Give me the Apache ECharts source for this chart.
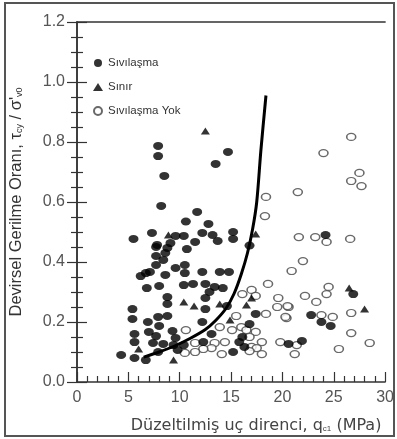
<!DOCTYPE html>
<html>
<head>
<meta charset="utf-8">
<script src="https://cdn.jsdelivr.net/npm/echarts@6/dist/echarts.min.js"></script>
<style>
  html, body { margin: 0; padding: 0; background: #fff; }
  #chart { width: 397px; height: 439px; }
</style>
</head>
<body>
<div id="chart"></div>
<script>
// values: [qc1 (MPa), stress ratio]
const liquefied = [
  [7.9, 0.787], [7.9, 0.753], [8.5, 0.687], [8.2, 0.587], [14.7, 0.767], [13.5, 0.727],
  [11.7, 0.567], [10.6, 0.535], [12.8, 0.527], [5.5, 0.477], [7.3, 0.497], [9.6, 0.487],
  [10.4, 0.487], [12.2, 0.497], [13.2, 0.49], [15.2, 0.5], [15.2, 0.477], [7.8, 0.457],
  [9.1, 0.463], [11.5, 0.467], [13.7, 0.47], [16.8, 0.455], [10.7, 0.443],
  [7.7, 0.45], [8.8, 0.447], [7.7, 0.42], [8.6, 0.43], [7.7, 0.39], [8.4, 0.407],
  [9.6, 0.38], [7.1, 0.367], [6.2, 0.353], [6.7, 0.363], [8.6, 0.357], [10.5, 0.39],
  [10.5, 0.363], [12.2, 0.367], [13.9, 0.367], [14.8, 0.367],
  [6.8, 0.313], [8.0, 0.32], [10.4, 0.323], [11.3, 0.327], [12.5, 0.327], [13.4, 0.317],
  [14.2, 0.313], [12.9, 0.3], [8.8, 0.283], [12.5, 0.28], [8.8, 0.26], [12.5, 0.243],
  [14.6, 0.253], [5.4, 0.243], [5.4, 0.21], [7.9, 0.217], [8.8, 0.22], [6.9, 0.2],
  [8.0, 0.187], [7.0, 0.167], [5.6, 0.16], [7.7, 0.153], [9.3, 0.17], [5.6, 0.133],
  [7.4, 0.13], [8.4, 0.127], [9.6, 0.147], [9.4, 0.123], [9.8, 0.107], [4.3, 0.09],
  [5.6, 0.08], [6.7, 0.073], [7.9, 0.1], [10.4, 0.123],
  [17.4, 0.227], [12.2, 0.2], [16.8, 0.193], [13.1, 0.16], [16.1, 0.15], [12.3, 0.133],
  [15.8, 0.133], [16.3, 0.117], [15.2, 0.1],
  [24.2, 0.49], [26.9, 0.293], [22.8, 0.223], [23.8, 0.2], [24.7, 0.187], [20.6, 0.127],
  [21.9, 0.137]
];
const marginal = [
  [12.5, 0.837], [8.9, 0.49], [17.4, 0.493], [10.4, 0.267], [11.4, 0.253], [13.9, 0.26],
  [16.5, 0.257], [17.0, 0.28], [14.9, 0.207], [6.0, 0.11], [9.4, 0.073], [26.5, 0.313],
  [28.0, 0.243]
];
const notLiquefied = [
  [26.7, 0.817], [24.0, 0.763], [27.5, 0.697], [26.7, 0.67], [27.7, 0.653], [21.5, 0.633],
  [18.4, 0.617], [18.3, 0.553], [21.6, 0.483], [23.2, 0.483], [24.3, 0.467], [26.6, 0.477],
  [22.0, 0.403], [20.9, 0.37], [24.5, 0.317], [24.3, 0.293], [22.2, 0.287], [23.3, 0.267],
  [20.6, 0.25], [20.4, 0.213], [23.8, 0.223], [24.9, 0.217], [26.7, 0.23], [26.7, 0.163],
  [28.5, 0.13], [25.5, 0.11], [21.4, 0.123], [21.2, 0.093],
  [18.6, 0.327], [19.6, 0.28], [19.5, 0.25], [20.5, 0.253], [20.3, 0.217], [18.4, 0.227],
  [19.8, 0.133], [17.0, 0.307], [16.1, 0.293], [17.4, 0.287], [15.5, 0.22], [13.9, 0.183],
  [15.1, 0.173], [16.0, 0.183], [16.5, 0.173], [17.4, 0.167], [10.6, 0.173], [16.8, 0.15],
  [14.4, 0.133], [13.4, 0.13], [11.5, 0.13], [18.0, 0.133], [17.0, 0.117], [13.1, 0.113],
  [12.3, 0.11], [17.5, 0.113], [10.5, 0.097], [11.5, 0.1], [14.1, 0.093], [18.0, 0.093],
  [16.8, 0.103]
];
// boundary curve
const boundary = [
  [6.5, 0.083], [8.0, 0.1], [9.5, 0.12], [11.0, 0.145], [12.5, 0.175], [13.5, 0.205],
  [14.5, 0.245], [15.3, 0.295], [16.0, 0.36], [16.6, 0.43], [17.1, 0.51], [17.5, 0.6],
  [17.9, 0.77], [18.4, 0.955]
];
const seriesNames = ["Sıvılaşma", "Sınır", "Sıvılaşma Yok"];
const xTicks = [0, 5, 10, 15, 20, 25, 30];
const yTicks = [0, 0.2, 0.4, 0.6, 0.8, 1.0, 1.2];

const font = "'Liberation Sans', Arial, sans-serif";
const wide = "'DejaVu Sans', sans-serif";
const ink = "#333";

const chart = echarts.init(document.getElementById("chart"), null, { renderer: "canvas" });

const tickStyle = { color: ink, width: 1.2 };
const yCommon = {
  type: "value",
  min: yTicks[0],
  max: yTicks[yTicks.length - 1],
  interval: 0.2,
  axisLine: { show: true, lineStyle: { color: ink, width: 1.5 } },
  axisTick: { show: true, inside: true, length: 10, lineStyle: tickStyle },
  minorTick: { show: true, splitNumber: 4, length: 6, lineStyle: tickStyle },
  splitLine: { show: false }
};

chart.setOption({
  animation: false,
  textStyle: { fontFamily: font },
  grid: { left: 75, right: 9, top: 22, bottom: 57, show: false },
  legend: {
    orient: "vertical",
    left: 88,
    top: 52,
    itemWidth: 10,
    itemHeight: 8,
    itemGap: 12,
    textStyle: { fontSize: 11.5, color: ink, fontFamily: font },
    data: seriesNames
  },
  xAxis: [{
    type: "value",
    min: xTicks[0],
    max: xTicks[xTicks.length - 1],
    interval: 5,
    axisLine: { show: true, onZero: false, lineStyle: { color: ink, width: 1.5 } },
    axisTick: { show: true, inside: true, length: 10, lineStyle: tickStyle },
    minorTick: { show: true, splitNumber: 5, length: 6, lineStyle: tickStyle },
    splitLine: { show: false },
    axisLabel: { fontSize: 16, color: "#555", margin: 8, fontFamily: font },
    name: "{t|Düzeltilmiş uç direnci, q}{s|c1}{t| (MPa)}",
    nameLocation: "middle",
    nameGap: 36,
    nameTextStyle: {
      padding: [0, 0, 0, 50],
      rich: {
        t: { fontSize: 16, color: "#444", fontFamily: wide },
        s: { fontSize: 8, color: "#444", fontFamily: font, padding: [5, 0, 0, 0] }
      }
    }
  }, {
    type: "value",
    position: "top",
    min: xTicks[0],
    max: xTicks[xTicks.length - 1],
    axisLine: { show: true, onZero: false, lineStyle: { color: ink, width: 1.5 } },
    axisTick: { show: false },
    axisLabel: { show: false },
    splitLine: { show: false }
  }],
  yAxis: [Object.assign({}, yCommon, {
    axisLabel: {
      fontSize: 16, color: "#555", margin: 12, fontFamily: font,
      formatter: (v) => v.toFixed(1)
    },
    name: "{t|Devirsel Gerilme Oranı, τ}{s|cy}{t| / σ'}{s|v0}",
    nameLocation: "middle",
    nameGap: 52,
    nameTextStyle: {
      rich: {
        t: { fontSize: 16.5, color: ink, fontFamily: font },
        s: { fontSize: 9, color: ink, fontFamily: font, padding: [6, 0, 0, 0] }
      }
    }
  }), Object.assign({}, yCommon, {
    position: "right",
    axisLabel: { show: false }
  })],
  graphic: [{
    type: "rect",
    shape: { x: 5, y: 3, width: 389, height: 433 },
    style: { fill: "none", stroke: "#555", lineWidth: 2 },
    silent: true
  }],
  series: [
    {
      name: seriesNames[2],
      type: "scatter",
      data: notLiquefied,
      symbol: "circle",
      symbolSize: [9, 7],
      itemStyle: { color: "#fff", borderColor: "#444", borderWidth: 1.4 }
    },
    {
      name: seriesNames[0],
      type: "scatter",
      data: liquefied,
      symbol: "circle",
      symbolSize: [10, 8],
      itemStyle: { color: "#000" }
    },
    {
      name: seriesNames[1],
      type: "scatter",
      data: marginal,
      symbol: "triangle",
      symbolSize: [9, 7],
      itemStyle: { color: "#000" }
    },
    {
      name: "boundary",
      type: "line",
      data: boundary,
      smooth: 0.3,
      showSymbol: false,
      lineStyle: { color: "#000", width: 3 },
      z: 5
    }
  ]
});
</script>
</body>
</html>
